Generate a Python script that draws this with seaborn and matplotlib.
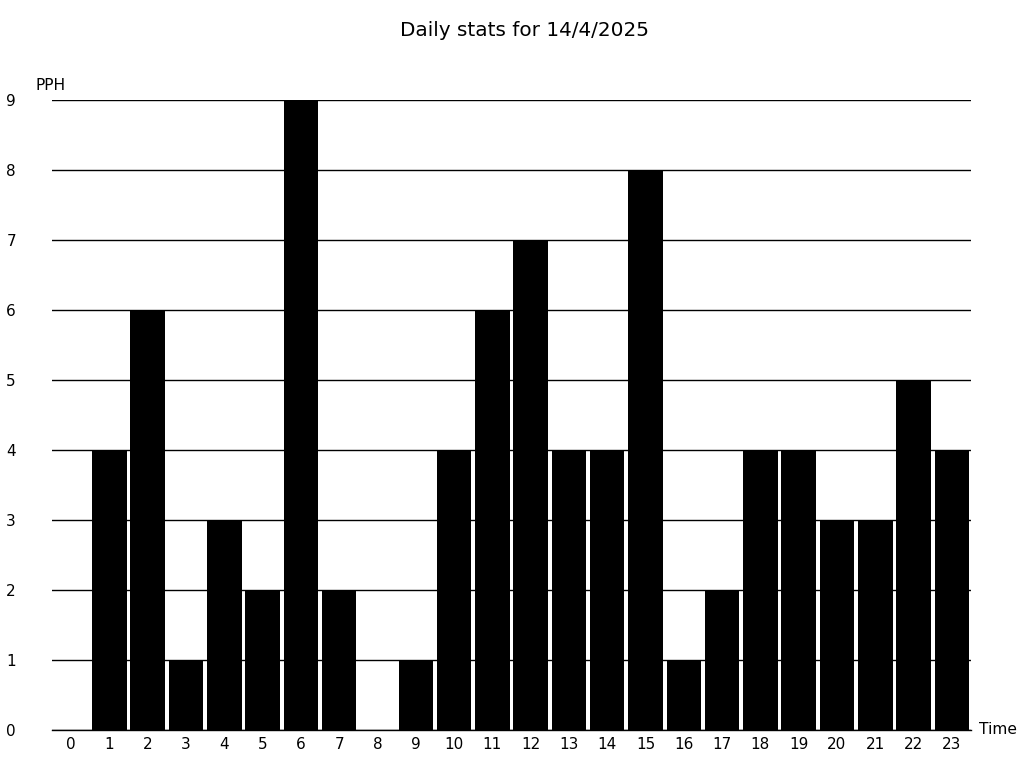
import matplotlib
matplotlib.use("Agg")
import matplotlib.pyplot as plt
import seaborn as sns
import pandas as pd

hours = list(range(24))
pph = [0, 4, 6, 1, 3, 2, 9, 2, 0, 1, 4, 6, 7, 4, 4, 8, 1, 2, 4, 4, 3, 3, 5, 4]
title = "Daily stats for 14/4/2025"
y_label = "PPH"
x_label = "Time"

plt.rcParams['font.family'] = ['DejaVu Sans']
plt.rcParams['text.color'] = 'black'
plt.rcParams['xtick.color'] = 'black'
plt.rcParams['ytick.color'] = 'black'

df = pd.DataFrame({"hour": hours, "pph": pph})

fig = plt.figure(figsize=(10.24, 7.68), dpi=100)
ax = fig.add_axes([52/1024, 38/768, (971-52)/1024, (730-100)/768])

sns.barplot(data=df, x="hour", y="pph", color="black", saturation=1,
            width=0.9, ax=ax, zorder=3, linewidth=0)

ax.set_xlim(-0.5, 23.5)
ax.set_ylim(0, 9)
ax.set_yticks(range(10))
ax.set_axisbelow(True)
ax.yaxis.grid(True, color="black", linewidth=1)
ax.xaxis.grid(False)
for s in ["left", "right", "top"]:
    ax.spines[s].set_visible(False)
ax.spines["bottom"].set_color("black")
ax.spines["bottom"].set_linewidth(1)
ax.tick_params(axis="y", length=0, pad=26, labelsize=11)
ax.tick_params(axis="x", length=0, pad=5, labelsize=11)
ax.set_xlabel("")
ax.set_ylabel("")

fig.text(524/1024, 1 - 31/768, title, ha="center", va="center", fontsize=14.4)
fig.text(51/1024, 1 - 85/768, y_label, ha="center", va="center", fontsize=11.2)
fig.text(998/1024, 1 - 730/768, x_label, ha="center", va="center", fontsize=11.2)

fig.savefig("out.png", dpi=100)
